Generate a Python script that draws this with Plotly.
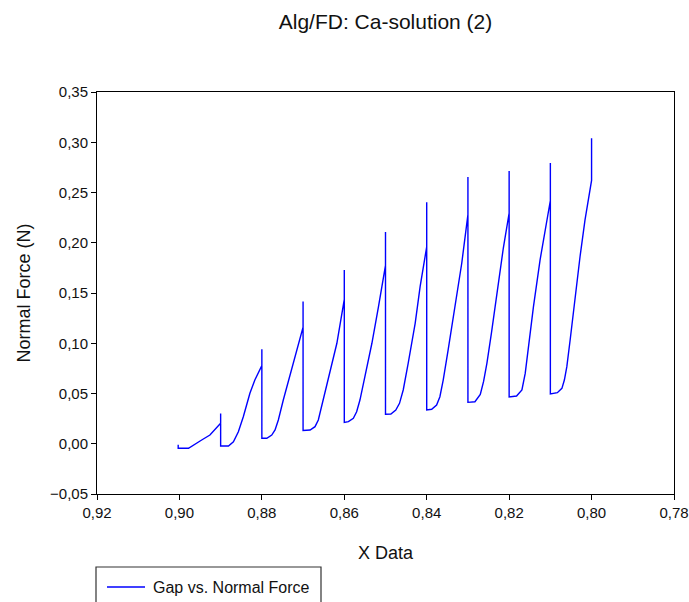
import plotly.graph_objects as go

# Gap (x) and normal force (y)
gap = [
    0.9003, 0.9003, 0.8978, 0.8966, 0.8946, 0.8926, 0.8900, 0.8900, 0.8900,
    0.8881, 0.8869, 0.8857, 0.8845, 0.8829, 0.8817, 0.8800, 0.8800, 0.8800,
    0.8788, 0.8776, 0.8768, 0.8760, 0.8748, 0.8732, 0.8716, 0.8700, 0.8700, 0.8700,
    0.8683, 0.8671, 0.8663, 0.8651, 0.8635, 0.8618, 0.8600, 0.8600, 0.8600,
    0.8590, 0.8578, 0.8570, 0.8562, 0.8550, 0.8533, 0.8517, 0.8500, 0.8500, 0.8500,
    0.8487, 0.8475, 0.8466, 0.8457, 0.8445, 0.8428, 0.8416, 0.8400, 0.8400, 0.8400,
    0.8388, 0.8376, 0.8368, 0.8360, 0.8348, 0.8331, 0.8315, 0.8300, 0.8300, 0.8300,
    0.8283, 0.8270, 0.8262, 0.8254, 0.8243, 0.8228, 0.8214, 0.8200, 0.8200, 0.8200,
    0.8182, 0.8169, 0.8161, 0.8153, 0.8141, 0.8125, 0.8110, 0.8100, 0.8100, 0.8100,
    0.8083, 0.8072, 0.8066, 0.8060, 0.8052, 0.8040, 0.8028, 0.8016, 0.8000, 0.8000,
]
force = [
    -0.0010, -0.0045, -0.0045, -0.0012, 0.0037, 0.0087, 0.0205, 0.0300, -0.0022,
    -0.0022, 0.0020, 0.0120, 0.0269, 0.0502, 0.0634, 0.0777, 0.0940, 0.0054,
    0.0054, 0.0087, 0.0137, 0.0236, 0.0435, 0.0684, 0.0933, 0.1160, 0.1416, 0.0132,
    0.0137, 0.0170, 0.0236, 0.0435, 0.0700, 0.1000, 0.1437, 0.1729, 0.0213,
    0.0220, 0.0253, 0.0319, 0.0435, 0.0667, 0.1000, 0.1364, 0.1775, 0.2107, 0.0293,
    0.0296, 0.0336, 0.0402, 0.0535, 0.0800, 0.1198, 0.1563, 0.1960, 0.2402, 0.0336,
    0.0343, 0.0386, 0.0468, 0.0634, 0.0933, 0.1364, 0.1796, 0.2280, 0.2654, 0.0412,
    0.0418, 0.0490, 0.0620, 0.0800, 0.1100, 0.1530, 0.1950, 0.2296, 0.2714, 0.0465,
    0.0475, 0.0535, 0.0700, 0.0966, 0.1364, 0.1828, 0.2193, 0.2420, 0.2794, 0.0496,
    0.0508, 0.0551, 0.0634, 0.0767, 0.1032, 0.1463, 0.1861, 0.2226, 0.2620, 0.3040,
]
series_name = "Gap vs. Normal Force"

x_ticks = [0.92, 0.90, 0.88, 0.86, 0.84, 0.82, 0.80, 0.78]
y_ticks = [-0.05, 0.00, 0.05, 0.10, 0.15, 0.20, 0.25, 0.30, 0.35]

W, H = 689, 602
L, R, T, B = 97, 15, 92, 108
PW, PH = W - L - R, H - T - B


def px_x(p):
    return (p - L) / PW


def px_y(p):
    return ((H - B) - p) / PH


line_color = "#0000ff"
fig = go.Figure()
fig.add_trace(go.Scatter(
    x=gap, y=force, mode="lines", name=series_name,
    line=dict(color=line_color, width=1.4), showlegend=False,
))

font = "Liberation Sans, Arial, sans-serif"
txt = "#111111"
axis_common = dict(
    showgrid=False, zeroline=False, showline=True, linecolor="black", linewidth=1,
    mirror=True, ticks="outside", ticklen=5, tickcolor="black", tickwidth=1,
    tickfont=dict(family=font, size=15, color=txt), tickformat=".2f",
    automargin=False,
)

fig.update_layout(
    width=W, height=H,
    margin=dict(l=L, r=R, t=T, b=B),
    paper_bgcolor="white", plot_bgcolor="white",
    separators=",.",
    font=dict(family=font, color="black"),
    title=dict(text="Alg/FD: Ca-solution (2)", x=(L + (W - R)) / 2 / W, xanchor="center",
               y=1 - 22 / H, yanchor="middle", font=dict(size=21, family=font, color=txt)),
    xaxis=dict(range=[0.92, 0.78], tickvals=x_ticks,
               title=dict(text="X Data", font=dict(size=18, family=font, color=txt), standoff=26),
               **axis_common),
    yaxis=dict(range=[-0.05, 0.35], tickvals=y_ticks,
               title=dict(text="Normal Force (N)", font=dict(size=18, family=font, color=txt),
                          standoff=14),
               **axis_common),
    showlegend=False,
)

# legend: frame (clipped by the page bottom, as in the reference), line sample and label
fig.add_shape(type="rect", xref="paper", yref="paper",
              x0=px_x(96), x1=px_x(321), y0=px_y(567), y1=px_y(640),
              line=dict(color="#333333", width=1.2), fillcolor="rgba(0,0,0,0)")
fig.add_shape(type="line", xref="paper", yref="paper",
              x0=px_x(107), x1=px_x(145), y0=px_y(587), y1=px_y(587),
              line=dict(color=line_color, width=1.4))
fig.add_annotation(text=series_name, xref="paper", yref="paper",
                   x=px_x(151), y=px_y(587), xanchor="left", yanchor="middle",
                   showarrow=False, font=dict(family=font, size=16, color=txt))

fig.write_html("out.html")
